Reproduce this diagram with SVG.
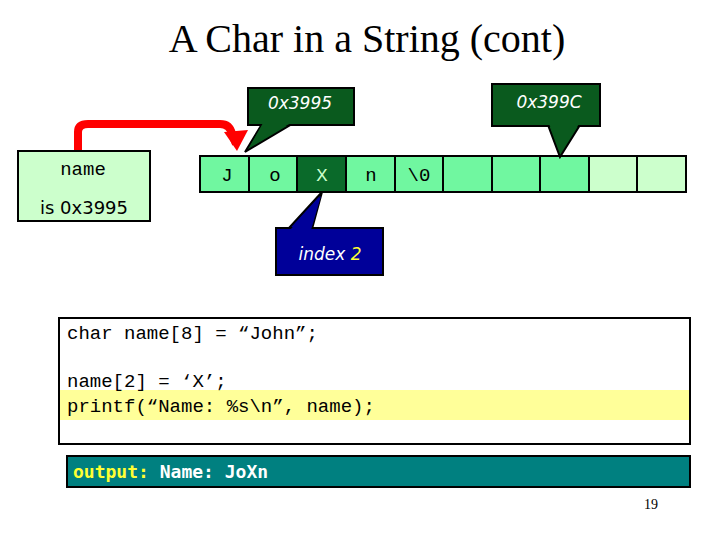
<svg xmlns="http://www.w3.org/2000/svg" width="720" height="540" viewBox="0 0 720 540">
<style>
.cell{stroke:#000;stroke-width:2}
.mono{font-family:"Liberation Mono",monospace;font-size:19px}
.call{font-family:"DejaVu Sans",sans-serif;font-style:italic;fill:#fff;font-size:17px;text-anchor:middle}
</style>
<rect width="720" height="540" fill="#fff"/>
<text x="367" y="52" text-anchor="middle" font-family="Liberation Serif,serif" font-size="40">A Char in a String (cont)</text>
<g id="connectors">
<path d="M78 151 V132 Q78 124 88 124 H220 Q230 124 232 134 L236 144" fill="none" stroke="#f00" stroke-width="8"/>
<polygon points="224,132 248,130 237,151" fill="#f00"/>
</g>
<g id="name">
<rect x="18" y="151" width="132" height="70" fill="#ccffcc" stroke="#000" stroke-width="2"/>
<text x="83" y="175" text-anchor="middle" class="mono">name</text>
<text x="84" y="214" text-anchor="middle" font-family="DejaVu Sans,sans-serif" font-size="18">is 0x3995</text>
</g>
<g id="array" class="mono" text-anchor="middle">
<rect class="cell" x="200" y="156" width="49" height="36" fill="#70f7a0"/>
<rect class="cell" x="249" y="156" width="48" height="36" fill="#70f7a0"/>
<rect class="cell" x="297" y="156" width="49" height="36" fill="#0a6a2a"/>
<rect class="cell" x="346" y="156" width="49" height="36" fill="#70f7a0"/>
<rect class="cell" x="395" y="156" width="48" height="36" fill="#70f7a0"/>
<rect class="cell" x="443" y="156" width="49" height="36" fill="#70f7a0"/>
<rect class="cell" x="492" y="156" width="48" height="36" fill="#70f7a0"/>
<rect class="cell" x="540" y="156" width="49" height="36" fill="#70f7a0"/>
<rect class="cell" x="589" y="156" width="48" height="36" fill="#ccffcc"/>
<rect class="cell" x="637" y="156" width="49" height="36" fill="#ccffcc"/>
<text x="227" y="181">J</text><text x="275" y="181">o</text><text x="322" y="181" fill="#ccffcc">X</text>
<text x="371" y="181">n</text><text x="419" y="181">\0</text>
</g>
<g id="c1">
<polygon points="262,124 292,124 245,152" fill="#0a5a1e" stroke="#000" stroke-width="2"/>
<rect x="248" y="88" width="106" height="37" fill="#0a5a1e" stroke="#000" stroke-width="2"/>
<polygon points="263,123 291,123 250,146" fill="#0a5a1e"/>
<text x="300" y="109" class="call">0x3995</text>
</g>
<g id="c2">
<polygon points="548,125 580,125 560,157" fill="#0a5a1e" stroke="#000" stroke-width="2"/>
<rect x="492" y="84" width="108" height="42" fill="#0a5a1e" stroke="#000" stroke-width="2"/>
<polygon points="549,124 579,124 561,152" fill="#0a5a1e"/>
<text x="549" y="108" class="call">0x399C</text>
</g>
<g id="c3">
<polygon points="322,192 288,229 312,229" fill="#000099" stroke="#000" stroke-width="2"/>
<rect x="276" y="228" width="107" height="47" fill="#000099" stroke="#000" stroke-width="2"/>
<polygon points="321,196 290,230 311,230" fill="#000099"/>
<text x="330" y="260" class="call" font-size="21">index <tspan fill="#ffff33">2</tspan></text>
</g>
<g id="code">
<rect x="59" y="318" width="631" height="126" fill="#fff" stroke="#000" stroke-width="2"/>
<rect x="60" y="390" width="629" height="30" fill="#ffff99"/>
<text x="67" y="339" class="mono">char name[8] = “John”;</text>
<text x="67" y="387" class="mono">name[2] = ‘X’;</text>
<text x="67" y="412" class="mono">printf(“Name: %s\n”, name);</text>
</g>
<g id="output">
<rect x="67" y="456" width="623" height="31" fill="#008080" stroke="#000" stroke-width="2"/>
<text x="73" y="478" font-family="DejaVu Sans Mono,monospace" font-weight="bold" font-size="18" fill="#ffff33">output: <tspan fill="#fff">Name: JoXn</tspan></text>
</g>
<text x="651" y="509" text-anchor="middle" font-family="Liberation Serif,serif" font-size="14">19</text>
</svg>
